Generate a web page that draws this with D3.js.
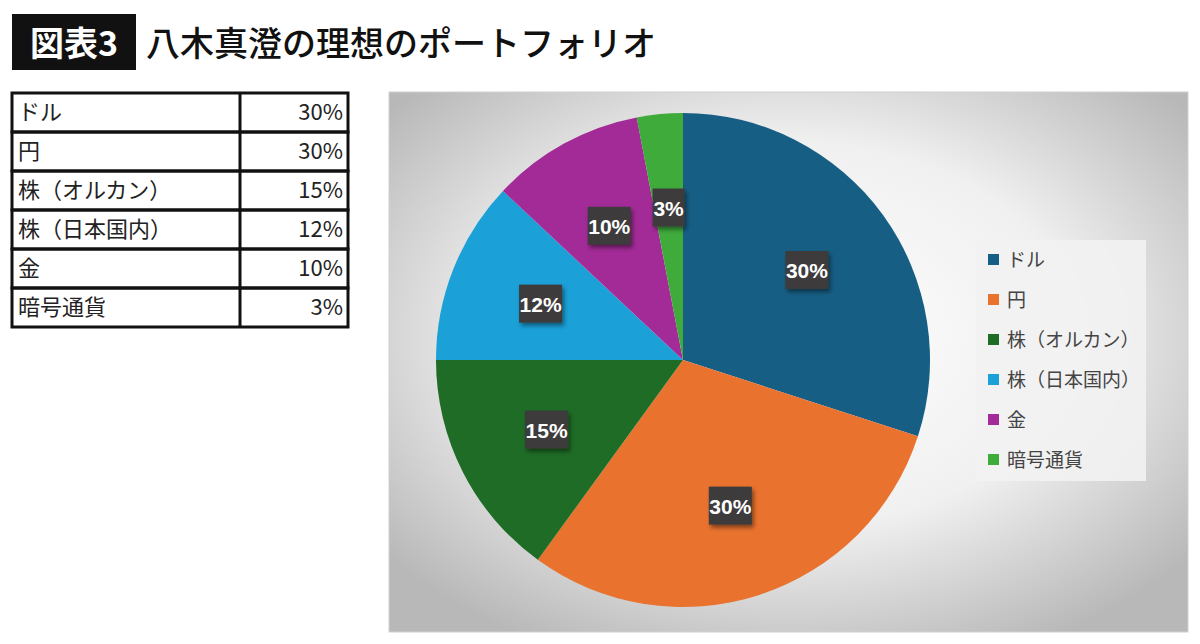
<!DOCTYPE html>
<html lang="ja">
<head>
<meta charset="UTF-8"/>
<script src="https://d3js.org/d3.v7.min.js"></script>
<style>
  body { margin:0; background:#fff; font-family:"Noto Sans CJK JP","Noto Sans",sans-serif; }
  svg { display:block; }
</style>
</head>
<body>
<svg width="1200" height="644"></svg>
<script>
  const categories = ['ドル','円','株（オルカン）','株（日本国内）','金','暗号通貨'];
  const values     = [30, 30, 15, 12, 10, 3];
  const colors     = ['#175e84','#e9722f','#1e6c25','#1ba0d8','#a22b97','#3fab3b'];

  const svg = d3.select('svg');
  const jp = '"Noto Sans CJK JP",sans-serif';

  // title
  svg.append('rect').attr('x',12).attr('y',14).attr('width',124).attr('height',56).attr('fill','#111');
  svg.append('text').attr('x',74).attr('y',56).attr('text-anchor','middle')
    .attr('fill','#fff').attr('font-size',34).attr('font-weight',700).attr('font-family',jp).text('図表3');
  svg.append('text').attr('x',146).attr('y',56)
    .attr('fill','#111').attr('font-size',34).attr('font-weight',500).attr('font-family',jp).text('八木真澄の理想のポートフォリオ');

  // table
  const tx0 = 12, tx1 = 240, tx2 = 348, ty0 = 93, rowH = 39;
  const tbl = svg.append('g');
  categories.forEach((c,i)=>{
    const y = ty0 + i*rowH;
    tbl.append('rect').attr('x',tx0).attr('y',y).attr('width',tx2-tx0).attr('height',rowH)
      .attr('fill','none').attr('stroke','#111').attr('stroke-width',3);
    tbl.append('text').attr('x',tx0+6).attr('y',y+27).attr('font-size',22)
      .attr('font-family',jp).attr('fill','#222').text(c);
    tbl.append('text').attr('x',tx2-5).attr('y',y+27).attr('font-size',22).attr('text-anchor','end')
      .attr('font-family',jp).attr('fill','#222').text(values[i]+'%');
  });
  tbl.append('line').attr('x1',tx1).attr('x2',tx1).attr('y1',ty0).attr('y2',ty0+rowH*categories.length)
    .attr('stroke','#111').attr('stroke-width',3);

  // chart area
  const defs = svg.append('defs');
  const rg = defs.append('radialGradient').attr('id','bg').attr('cx','50%').attr('cy','45%').attr('r','65%');
  rg.append('stop').attr('offset','0%').attr('stop-color','#ffffff');
  rg.append('stop').attr('offset','55%').attr('stop-color','#f0f0f0');
  rg.append('stop').attr('offset','100%').attr('stop-color','#b8b8b8');
  const sh = defs.append('filter').attr('id','sh').attr('x','-30%').attr('y','-30%').attr('width','160%').attr('height','160%');
  sh.append('feDropShadow').attr('dx',2).attr('dy',3).attr('stdDeviation',2).attr('flood-color','#000').attr('flood-opacity',0.45);

  svg.append('rect').attr('x',389).attr('y',92).attr('width',799).attr('height',540)
    .attr('fill','url(#bg)').attr('stroke','#d0d0d0');

  const cx = 683, cy = 360, r = 247;
  const pie = d3.pie().sort(null).value(d=>d)(values);
  const arc = d3.arc().innerRadius(0).outerRadius(r);
  const g = svg.append('g').attr('transform',`translate(${cx},${cy})`);
  g.selectAll('path').data(pie).join('path')
    .attr('d',arc).attr('fill',(d,i)=>colors[i]);

  const lblArc = d3.arc().innerRadius(r*0.62).outerRadius(r*0.62);
  const lg = g.selectAll('g.lbl').data(pie).join('g').attr('class','lbl')
    .attr('transform',d=>{ const [x,y] = lblArc.centroid(d); return `translate(${x},${y})`; });
  lg.append('rect')
    .attr('x',d=>-(String(d.data).length*11+21)/2).attr('y',-19)
    .attr('width',d=>String(d.data).length*11+21).attr('height',38)
    .attr('fill','#3c3a3a').attr('filter','url(#sh)');
  lg.append('text').attr('text-anchor','middle').attr('y',8)
    .attr('fill','#fff').attr('font-size',21).attr('font-weight',700)
    .attr('font-family','"Liberation Sans",Arial,sans-serif').text(d=>d.data+'%');

  // legend
  const leg = svg.append('g');
  leg.append('rect').attr('x',976).attr('y',240).attr('width',170).attr('height',241)
    .attr('fill','#f2f2f2').attr('opacity',0.9);
  categories.forEach((c,i)=>{
    const y = 260 + i*40;
    leg.append('rect').attr('x',988).attr('y',y-6).attr('width',11).attr('height',11).attr('fill',colors[i]);
    leg.append('text').attr('x',1007).attr('y',y+7).attr('font-size',19)
      .attr('font-family',jp).attr('fill','#444').text(c);
  });
</script>
</body>
</html>
